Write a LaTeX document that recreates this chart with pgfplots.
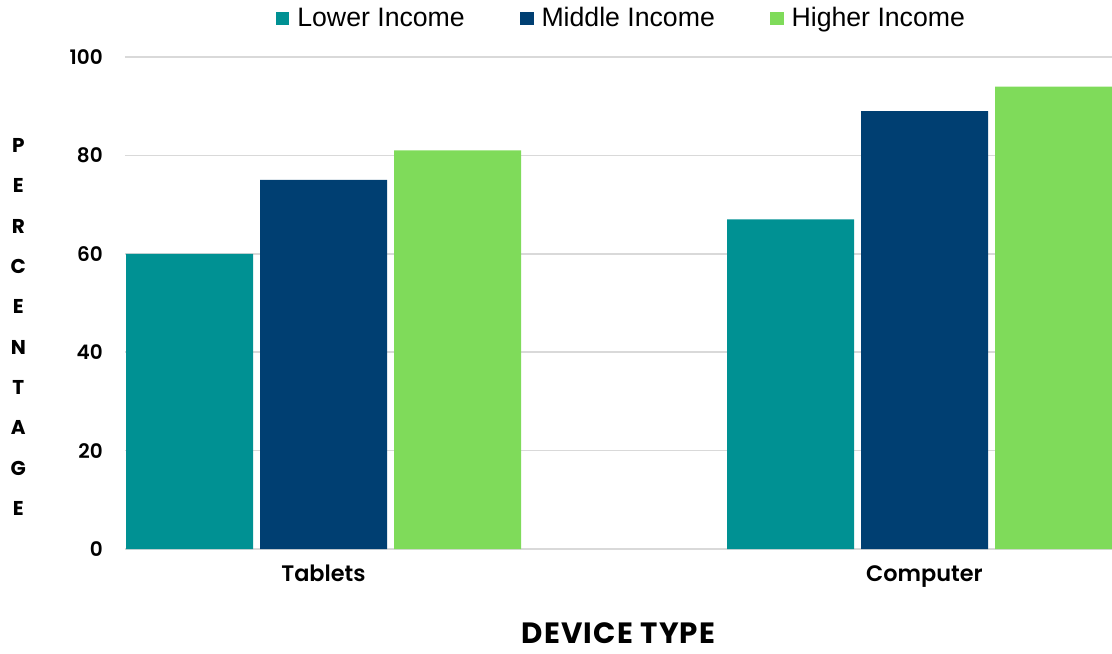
\documentclass[border=0pt]{standalone}
\usepackage{pgfplots}
\pgfplotsset{compat=1.18}
\usepackage{fontspec}
\setmainfont{Poppins}
\newfontfamily\popsb{Poppins SemiBold}
\newfontfamily\wide{Poppins}[LetterSpace=4]
\newfontfamily\legfont{Liberation Sans}
\definecolor{cLow}{HTML}{009193}
\definecolor{cMid}{HTML}{003F72}
\definecolor{cHigh}{HTML}{7FDB5A}
\definecolor{gridc}{HTML}{D9D9D9}
\begin{document}
\begin{tikzpicture}
\begin{axis}[
  scale only axis,
  width=740.25pt, height=369pt,
  ybar=5.25pt, bar width=95.25pt,
  xmin=-0.3303, xmax=1.3120,
  ymin=0, ymax=100,
  ytick={0,20,40,60,80,100},
  xtick={0,1}, xticklabels={Tablets,Computer},
  /pgf/number format/assume math mode=true,
  major tick length=0pt,
  ymajorgrids,
  grid style={gridc, line width=1.2pt},
  axis x line*=bottom, axis y line*=left,
  y axis line style={draw=none},
  x axis line style={gridc, line width=1.2pt},
  yticklabel style={font=\popsb\fontsize{15}{18}\selectfont, inner sep=0pt, anchor=east, xshift=-16.5pt},
  xticklabel style={font=\popsb\fontsize{16.8}{19}\selectfont, inner sep=0pt, anchor=north, yshift=-12pt},
  xlabel={DEVICE TYPE},
  every axis x label/.style={at={(rel axis cs:0.5,0)}, anchor=center, yshift=-63pt, font=\wide\bfseries\fontsize{22}{25}\selectfont},
  ylabel={P\\E\\R\\C\\E\\N\\T\\A\\G\\E},
  every axis y label/.style={at={(rel axis cs:0,0.5)}, anchor=center, xshift=-80pt, yshift=-18pt, align=center, font=\bfseries\fontsize{15}{30.25}\selectfont},
  legend image code/.code={\fill[#1] (0pt,-5pt) rectangle (10pt,5pt);},
  legend style={at={(0.5,1)}, yshift=29pt, xshift=4.5pt, anchor=center, draw=none, fill=none,
    legend columns=3, font=\legfont\fontsize{20}{22}\selectfont,
    nodes={inner xsep=6pt},
    /tikz/every even column/.append style={column sep=35.5pt}},
  legend cell align=left,
]
\addplot[fill=cLow, draw=none] coordinates {(0,60) (1,67)};
\addplot[fill=cMid, draw=none] coordinates {(0,75) (1,89)};
\addplot[fill=cHigh, draw=none] coordinates {(0,81) (1,94)};
\legend{Lower Income, Middle Income, Higher Income}
\end{axis}
\pgfresetboundingbox
\path[use as bounding box] ([shift={(-93.75pt,-78pt)}]current axis.south west) rectangle ([shift={(0pt,42.75pt)}]current axis.north east);
\end{tikzpicture}
\end{document}
